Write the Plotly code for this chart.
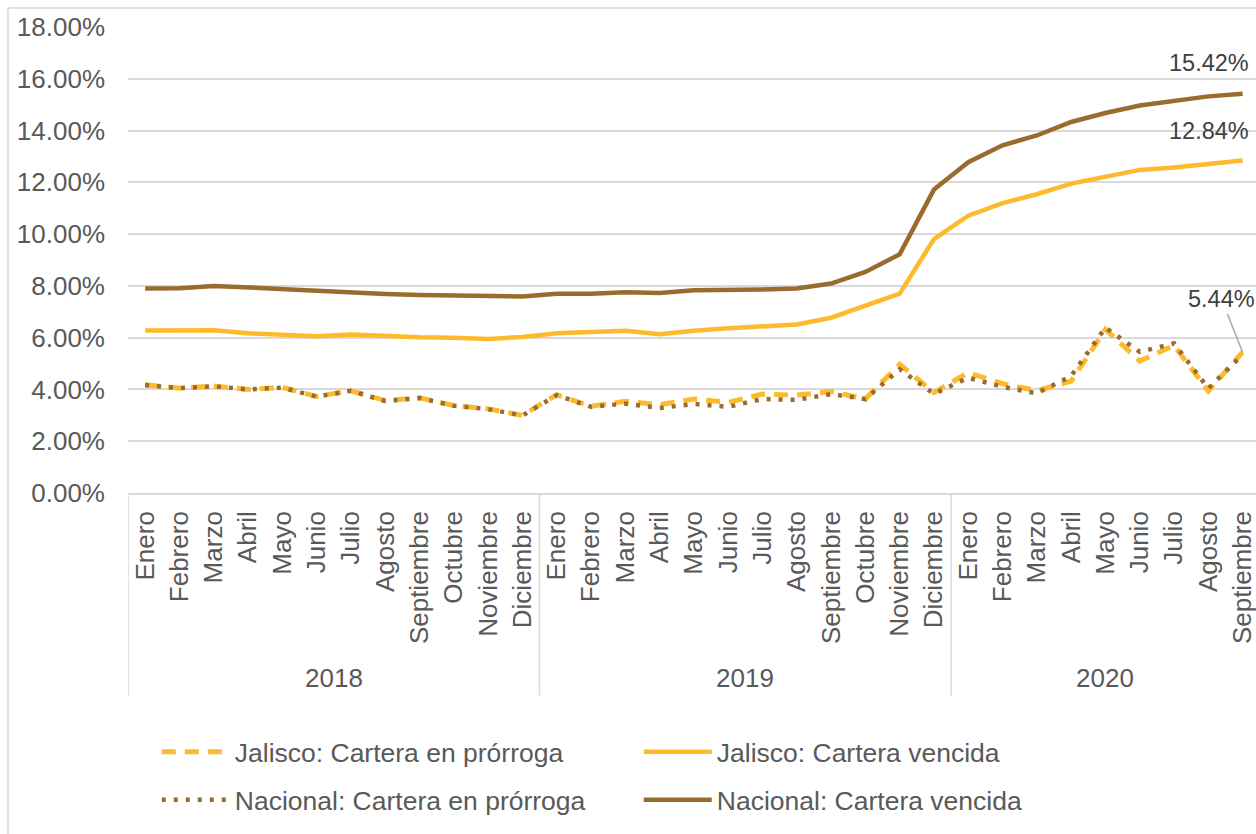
import plotly.graph_objects as go

months = ["Enero", "Febrero", "Marzo", "Abril", "Mayo", "Junio", "Julio", "Agosto",
          "Septiembre", "Octubre", "Noviembre", "Diciembre",
          "Enero", "Febrero", "Marzo", "Abril", "Mayo", "Junio", "Julio", "Agosto",
          "Septiembre", "Octubre", "Noviembre", "Diciembre",
          "Enero", "Febrero", "Marzo", "Abril", "Mayo", "Junio", "Julio", "Agosto",
          "Septiembre"]
years = ["2018"] * 12 + ["2019"] * 12 + ["2020"] * 9

jal_pror = [4.18, 4.05, 4.13, 4.00, 4.08, 3.73, 3.95, 3.57, 3.68, 3.38, 3.25, 3.00,
            3.80, 3.35, 3.54, 3.41, 3.63, 3.50, 3.82, 3.78, 3.92, 3.63, 4.97, 3.88,
            4.65, 4.22, 3.95, 4.32, 6.32, 5.10, 5.70, 3.94, 5.44]
jal_venc = [6.28, 6.28, 6.29, 6.17, 6.10, 6.05, 6.12, 6.06, 6.02, 6.00, 5.95, 6.03,
            6.17, 6.22, 6.27, 6.13, 6.27, 6.36, 6.43, 6.51, 6.77, 7.22, 7.70, 9.81,
            10.71, 11.20, 11.54, 11.95, 12.22, 12.48, 12.57, 12.70, 12.84]
nac_pror = [4.17, 4.05, 4.12, 4.00, 4.07, 3.72, 3.95, 3.55, 3.67, 3.37, 3.24, 2.99,
            3.78, 3.33, 3.45, 3.28, 3.44, 3.33, 3.63, 3.60, 3.82, 3.63, 4.78, 3.83,
            4.45, 4.10, 3.85, 4.52, 6.39, 5.45, 5.78, 4.04, 5.35]
nac_venc = [7.90, 7.91, 8.00, 7.94, 7.86, 7.78, 7.76, 7.69, 7.65, 7.64, 7.63, 7.59,
            7.70, 7.70, 7.75, 7.73, 7.83, 7.83, 7.86, 7.90, 8.09, 8.54, 9.22, 11.72,
            12.78, 13.43, 13.81, 14.33, 14.68, 14.97, 15.16, 15.32, 15.42]

names = ["Jalisco: Cartera en prórroga", "Jalisco: Cartera vencida",
         "Nacional: Cartera en prórroga", "Nacional: Cartera vencida"]

YELLOW = "#FDBA2C"
BROWN = "#9A6B2E"
TXT = "#595959"
GRID = "#D9D9D9"
FONT = "Liberation Sans, Arial, sans-serif"

x = list(range(len(months)))

fig = go.Figure()
fig.add_trace(go.Scatter(x=x, y=jal_pror, name=names[0], mode="lines",
                         line=dict(color=YELLOW, width=5, dash="14px,9px"), legend="legend"))
fig.add_trace(go.Scatter(x=x, y=jal_venc, name=names[1], mode="lines",
                         line=dict(color=YELLOW, width=4.5), legend="legend"))
fig.add_trace(go.Scatter(x=x, y=nac_pror, name=names[2], mode="lines",
                         line=dict(color=BROWN, width=4.5, dash="4px,8px"), legend="legend2"))
fig.add_trace(go.Scatter(x=x, y=nac_venc, name=names[3], mode="lines",
                         line=dict(color=BROWN, width=4.5), legend="legend2"))

# year group labels
groups = []
for i, yv in enumerate(years):
    if not groups or groups[-1][0] != yv:
        groups.append([yv, i, i])
    else:
        groups[-1][2] = i

annotations = []
shapes = []
for yv, a, b in groups:
    annotations.append(dict(x=(a + b) / 2, y=-0.397, xref="x", yref="paper", text=yv,
                            showarrow=False, font=dict(size=26, color=TXT, family=FONT),
                            yanchor="middle"))
    shapes.append(dict(type="line", xref="x", yref="paper", x0=a - 0.5, x1=a - 0.5,
                       y0=0, y1=-0.435, line=dict(color=GRID, width=1.5)))

# data labels
last = len(months) - 1
annotations.append(dict(x=last, y=nac_venc[-1], text=f"{nac_venc[-1]:.2f}%", showarrow=False,
                        xshift=-34, yshift=31, font=dict(size=23.5, color="#404040", family=FONT)))
annotations.append(dict(x=last, y=jal_venc[-1], text=f"{jal_venc[-1]:.2f}%", showarrow=False,
                        xshift=-34, yshift=30, font=dict(size=23.5, color="#404040", family=FONT)))
annotations.append(dict(x=last, y=jal_pror[-1], text=f"{jal_pror[-1]:.2f}%", showarrow=True,
                        ax=-21, ay=-53, arrowhead=0, arrowwidth=1.5, arrowcolor="#A6A6A6",
                        standoff=0, font=dict(size=23.5, color="#404040", family=FONT)))

# outer chart border
shapes.append(dict(type="rect", xref="paper", yref="paper", x0=-0.1064, x1=1.2,
                   y0=-1.2, y1=1.0408, line=dict(color=GRID, width=1.5), layer="below"))

fig.update_layout(
    width=1256, height=834, autosize=False,
    margin=dict(l=128, r=0, t=27, b=341),
    paper_bgcolor="white", plot_bgcolor="white",
    font=dict(family=FONT, size=26, color=TXT),
    showlegend=True,
    legend=dict(orientation="h", x=0.0255, y=-0.5558, xanchor="left", yanchor="middle",
                entrywidth=399, entrywidthmode="pixels", font=dict(size=26.5, color=TXT),
                itemwidth=68, bgcolor="rgba(0,0,0,0)"),
    legend2=dict(orientation="h", x=0.0255, y=-0.6588, xanchor="left", yanchor="middle",
                 entrywidth=399, entrywidthmode="pixels", font=dict(size=26.5, color=TXT),
                 itemwidth=68, bgcolor="rgba(0,0,0,0)"),
    annotations=annotations,
    shapes=shapes,
)
fig.update_xaxes(range=[-0.5, 32.39], tickmode="array", tickvals=x, ticktext=months,
                 tickangle=-90, showgrid=False, showline=True, linecolor=GRID, linewidth=1.5,
                 ticks="", ticklabelstandoff=6, tickfont=dict(size=26, color=TXT),
                 ticklabeloverflow="allow", zeroline=False)
fig.update_yaxes(range=[0, 18], dtick=2, tickformat=".2f", ticksuffix="%",
                 showgrid=True, gridcolor=GRID, gridwidth=1.5, zeroline=False,
                 showline=False, ticks="", ticklabelstandoff=22,
                 tickfont=dict(size=26, color=TXT))

fig.write_html(
    "out.html",
    config={"displayModeBar": False},
    post_script="document.body.style.margin='0';document.body.style.overflow='hidden';",
)
